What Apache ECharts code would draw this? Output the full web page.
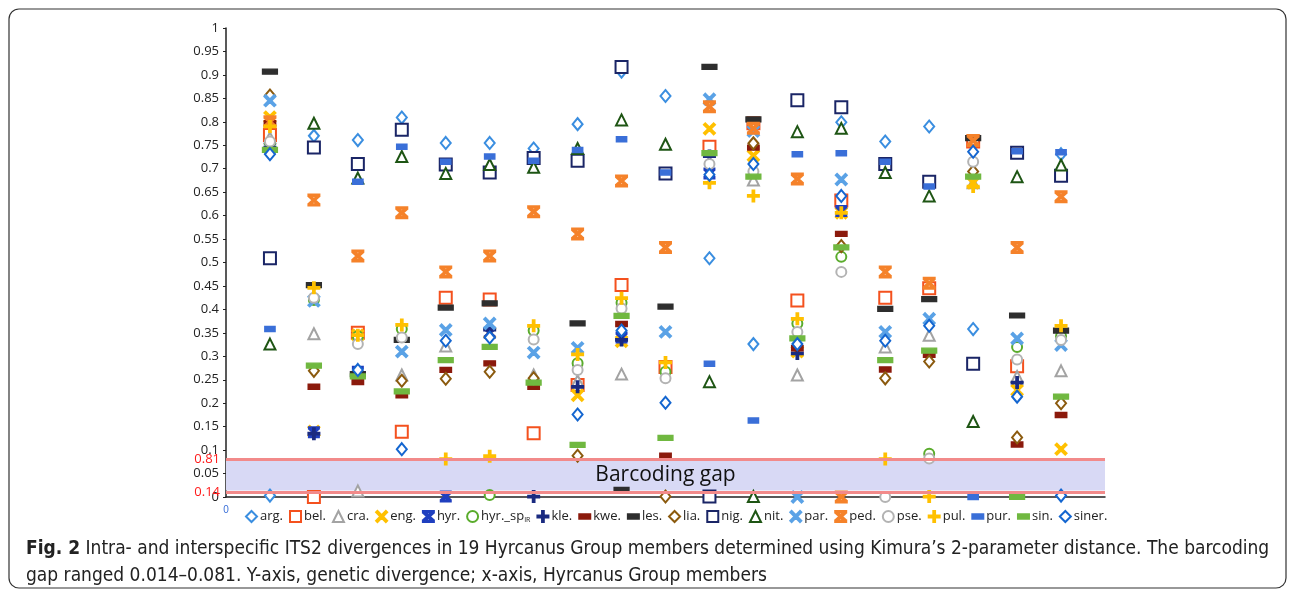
<!DOCTYPE html>
<html>
<head>
<meta charset="utf-8">
<script src="https://cdn.jsdelivr.net/npm/echarts@6/dist/echarts.min.js"></script>
<style>
  html, body { margin: 0; padding: 0; background: #fff; }
  #main { width: 1295px; height: 595px; }
</style>
</head>
<body>
<div id="main"></div>
<script>
// column = species group member, one point per member series in every column
var categories = ['arg.', 'bel.', 'cra.', 'eng.', 'hyr.', 'hyr._sp', 'kle.', 'kwe.', 'les.', 'lia.',
  'nig.', 'nit.', 'par.', 'ped.', 'pse.', 'pul.', 'pur.', 'sin.', 'siner.'];

var arg   = [0.003, 0.770, 0.761, 0.809, 0.755, 0.755, 0.743, 0.795, 0.907, 0.855, 0.509, 0.326, null, 0.799, 0.758, 0.790, 0.358, null, 0.731];
var bel   = [0.772, 0.000, 0.350, 0.139, 0.425, 0.421, 0.136, 0.239, 0.452, 0.277, 0.747, 0.797, 0.419, 0.632, 0.425, 0.445, 0.758, 0.279, null];
var cra   = [0.766, 0.348, 0.013, 0.260, 0.322, null, 0.260, 0.248, 0.262, null, null, 0.676, 0.260, null, 0.320, 0.345, 0.670, 0.257, 0.269];
var eng   = [0.810, 0.140, 0.345, null, null, 0.350, null, 0.217, 0.332, null, 0.785, 0.728, 0.310, 0.606, null, null, 0.670, 0.228, 0.102];
var hyr   = [0.745, 0.138, 0.267, null, 0.001, 0.350, null, null, 0.340, null, 0.690, null, null, 0.610, null, null, null, null, null];
var hyrSp = [0.755, 0.420, 0.343, 0.358, null, 0.004, 0.355, 0.285, 0.414, 0.267, null, null, 0.370, 0.512, null, 0.092, null, 0.320, 0.343];
var kle   = [0.745, 0.135, null, null, null, 0.357, 0.001, 0.235, 0.335, null, 0.727, null, 0.306, null, null, null, null, 0.244, null];
var kwe   = [0.797, 0.235, 0.245, 0.217, 0.271, 0.285, 0.235, null, 0.369, 0.088, null, 0.745, 0.317, 0.561, 0.272, 0.303, null, 0.112, 0.175];
var les   = [0.907, 0.452, 0.262, 0.335, 0.404, 0.413, null, 0.370, 0.015, 0.406, 0.917, 0.805, null, null, 0.401, 0.422, 0.765, 0.387, 0.355];
var lia   = [0.856, 0.269, null, 0.248, 0.252, 0.267, 0.253, 0.088, null, 0.001, null, 0.754, null, 0.535, 0.253, 0.289, 0.694, 0.127, 0.200];
var nig   = [0.509, 0.745, 0.710, 0.783, 0.709, 0.692, 0.723, 0.717, 0.917, 0.690, 0.001, null, 0.846, 0.831, 0.710, 0.672, 0.284, 0.734, 0.685];
var nit   = [0.326, 0.797, 0.680, 0.726, 0.690, 0.709, 0.703, 0.743, 0.804, 0.752, 0.246, 0.001, 0.779, 0.786, 0.692, 0.642, 0.161, 0.683, 0.708];
var par   = [0.845, 0.418, null, 0.310, 0.356, 0.370, 0.308, 0.318, null, 0.352, 0.848, 0.780, 0.000, 0.677, 0.352, 0.380, null, 0.338, 0.324];
var ped   = [0.800, 0.633, 0.514, 0.606, 0.480, 0.514, 0.608, 0.561, 0.674, 0.532, 0.832, 0.786, 0.678, 0.000, 0.480, 0.456, 0.760, 0.532, 0.640];
var pse   = [0.758, 0.425, 0.326, 0.340, null, null, 0.336, 0.271, 0.402, 0.253, 0.710, 0.694, 0.352, 0.480, 0.000, 0.082, 0.715, 0.293, 0.335];
var pul   = [0.790, 0.446, 0.345, 0.367, 0.081, 0.087, 0.365, 0.304, 0.424, 0.287, 0.670, 0.642, 0.380, 0.606, 0.081, 0.001, 0.662, null, 0.365];
var pur   = [0.358, null, 0.672, 0.747, 0.715, 0.726, 0.717, 0.740, 0.763, 0.692, 0.284, 0.163, 0.731, 0.733, 0.715, 0.662, 0.000, 0.737, 0.735];
var sin   = [0.740, 0.280, 0.257, 0.225, 0.292, 0.320, 0.244, 0.111, 0.386, 0.126, 0.733, 0.683, 0.338, 0.532, 0.292, 0.312, 0.683, 0.000, 0.214];
var siner = [0.731, null, 0.271, 0.102, 0.333, 0.340, null, 0.176, 0.355, 0.201, 0.687, 0.710, 0.326, 0.642, 0.333, 0.365, 0.736, 0.214, 0.003];

// barcoding gap bounds and the labels drawn next to them
var gapLow = 0.014, gapHigh = 0.081;
var gapLabels = ['0.14', '0.81'];

var X_PATH = 'path://M0,1.2 L1.2,0 L5,3.8 L8.8,0 L10,1.2 L6.2,5 L10,8.8 L8.8,10 L5,6.2 L1.2,10 L0,8.8 L3.8,5 Z';
var AST_PATH = 'path://M0,0 H10 V1.3 H0 Z M0,8.7 H10 V10 H0 Z M0.5,2 L1.7,0.8 L5,4.1 L8.3,0.8 L9.5,2 L6.2,5 L9.5,8 L8.3,9.2 L5,5.9 L1.7,9.2 L0.5,8 L3.8,5 Z';
var PLUS_PATH = 'path://M4.2,0 H5.8 V4.2 H10 V5.8 H5.8 V10 H4.2 V5.8 H0 V4.2 H4.2 Z';
var DASH_PATH = 'path://M0,0 H10 V4 H0 Z';

var defs = [
  {name: 'arg.',    data: arg,   sym: 'emptyDiamond', size: [10, 12], color: '#3a8ee0'},
  {name: 'bel.',    data: bel,   sym: 'emptyRect',    size: 12, color: '#f4511e'},
  {name: 'cra.',    data: cra,   sym: 'emptyTriangle', size: 11, color: '#a3a3a3'},
  {name: 'eng.',    data: eng,   sym: X_PATH,   size: 11, color: '#ffc000'},
  {name: 'hyr.',    data: hyr,   sym: AST_PATH, size: 10, color: '#1f3fbf'},
  {name: 'hyr._sp', data: hyrSp, sym: 'emptyCircle', size: 10, color: '#5aac2c'},
  {name: 'kle.',    data: kle,   sym: PLUS_PATH, size: 11, color: '#1a2a80'},
  {name: 'kwe.',    data: kwe,   sym: DASH_PATH, size: [10, 5], color: '#8b1a0c'},
  {name: 'les.',    data: les,   sym: DASH_PATH, size: [13, 5], color: '#2e2e2e'},
  {name: 'lia.',    data: lia,   sym: 'emptyDiamond', size: [10, 12], color: '#8b5a0e'},
  {name: 'nig.',    data: nig,   sym: 'emptyRect',    size: 12, color: '#1a2566'},
  {name: 'nit.',    data: nit,   sym: 'emptyTriangle', size: 11, color: '#1e5514'},
  {name: 'par.',    data: par,   sym: X_PATH,   size: 11, color: '#5aa2e6'},
  {name: 'ped.',    data: ped,   sym: AST_PATH, size: 11, color: '#f5822a'},
  {name: 'pse.',    data: pse,   sym: 'emptyCircle', size: 10, color: '#b3b3b3'},
  {name: 'pul.',    data: pul,   sym: PLUS_PATH, size: 11, color: '#ffc000'},
  {name: 'pur.',    data: pur,   sym: DASH_PATH, size: [9, 5], color: '#3a6fd8'},
  {name: 'sin.',    data: sin,   sym: DASH_PATH, size: [13, 5], color: '#70b840'},
  {name: 'siner.',  data: siner, sym: 'emptyDiamond', size: [10, 12], color: '#1466d0'}
];

var series = defs.map(function (d) {
  var pts = [];
  d.data.forEach(function (v, i) {
    if (v !== null) pts.push([i + 1, v]);
  });
  return {
    name: d.name,
    type: 'scatter',
    symbol: d.sym,
    symbolSize: d.size,
    itemStyle: { color: d.color, borderColor: d.color, borderWidth: 2, opacity: 1 },
    data: pts,
    z: 3
  };
});

// band + its pink edges, carried by an empty series
series.unshift({
  type: 'scatter',
  data: [],
  silent: true,
  z: 1,
  markArea: {
    silent: true,
    itemStyle: { color: '#d8d9f5' },
    label: { show: true, position: 'inside', color: '#111', fontSize: 21, fontFamily: 'Open Sans' },
    data: [[{ yAxis: gapLow, xAxis: 0, name: 'Barcoding gap' }, { yAxis: gapHigh, xAxis: 20 }]]
  },
  markLine: {
    silent: true,
    symbol: 'none',
    lineStyle: { color: '#f28a8a', width: 3, type: 'solid' },
    label: { show: true, position: 'start', color: '#ff1a1a', fontSize: 13, fontFamily: 'Open Sans', distance: 6 },
    data: [
      { yAxis: gapHigh, label: { formatter: gapLabels[1] } },
      { yAxis: gapLow, label: { formatter: gapLabels[0] } }
    ]
  }
});

var chart = echarts.init(document.getElementById('main'));
chart.setOption({
  animation: false,
  backgroundColor: '#fff',
  grid: { left: 226, right: 190, top: 28, bottom: 98 },
  xAxis: {
    type: 'value',
    min: 0, max: 20, interval: 1,
    axisLine: { lineStyle: { color: '#222', width: 1.5 } },
    axisTick: { show: false },
    splitLine: { show: false },
    axisLabel: {
      color: '#3a6fd8', fontSize: 10, margin: 8,
      formatter: function (v) { return v === 0 ? '0' : ''; }
    }
  },
  yAxis: {
    type: 'value',
    min: 0, max: 1, interval: 0.05,
    axisLine: { show: true, lineStyle: { color: '#222', width: 1.5 } },
    axisTick: { show: true, length: 3, lineStyle: { color: '#222' } },
    splitLine: { show: false },
    axisLabel: {
      color: '#222', fontSize: 13, fontFamily: 'Open Sans', margin: 7,
      formatter: function (v) { return String(+v.toFixed(2)); }
    }
  },
  legend: {
    left: 240, top: 505,
    itemWidth: 11, itemHeight: 11, itemGap: 6,
    textStyle: {
      color: '#222', fontSize: 13, fontFamily: 'Open Sans', padding: [0, 0, 0, -2],
      rich: { s: { fontSize: 7, verticalAlign: 'bottom', padding: [6, 0, 0, 0], color: '#222' } }
    },
    formatter: function (n) { return n === 'hyr._sp' ? n + '{s|IR}' : n; },
    data: categories
  },
  graphic: [
    {
      type: 'rect', silent: true, z: -1,
      shape: { x: 9, y: 9, width: 1277, height: 579, r: 10 },
      style: { fill: 'none', stroke: '#333', lineWidth: 1.2 }
    },
    {
      type: 'text', left: 26, top: 536,
      style: {
        text: '{b|Fig. 2} Intra- and interspecific ITS2 divergences in 19 Hyrcanus Group members determined using Kimura\u2019s 2-parameter distance. The barcoding\ngap ranged 0.014\u20130.081. Y-axis, genetic divergence; x-axis, Hyrcanus Group members',
        fill: '#222', fontSize: 19, lineHeight: 27,
        fontFamily: 'Liberation Sans Narrow, DejaVu Sans Condensed, sans-serif',
        rich: { b: { fontWeight: 'bold', fill: '#222', fontSize: 19, fontFamily: 'Liberation Sans Narrow, DejaVu Sans Condensed, sans-serif' } }
      }
    }
  ],
  series: series
});
</script>
</body>
</html>
